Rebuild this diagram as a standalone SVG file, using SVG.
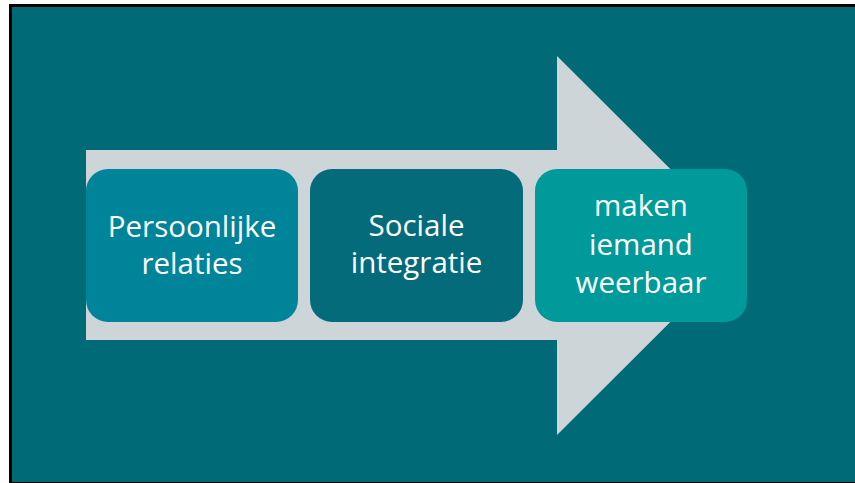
<svg xmlns="http://www.w3.org/2000/svg" width="855" height="483" viewBox="0 0 855 483">
  <style>
    .box-label { font-family: "Open Sans", "Liberation Sans", sans-serif; font-size: 29.5px; fill: #ffffff; text-anchor: middle; }
  </style>
  <!-- page and slide frame -->
  <rect x="0" y="0" width="855" height="483" fill="#ffffff"/>
  <rect x="9" y="4" width="846" height="479" fill="#000000"/>
  <rect x="12" y="7" width="843" height="475" fill="#006B77"/>

  <!-- big process arrow -->
  <g id="connectors">
    <polygon points="86,150 557,150 557,56 747,245.5 557,435 557,340 86,340" fill="#CDD5D8"/>
  </g>

  <g id="node-persoonlijke">
    <rect x="86" y="169" width="212" height="153" rx="22" fill="#00849A"/>
    <text class="box-label" x="192" y="237">Persoonlijke</text>
    <text class="box-label" x="192" y="274">relaties</text>
  </g>

  <g id="node-sociale">
    <rect x="310" y="169" width="213" height="153" rx="22" fill="#046B7A"/>
    <text class="box-label" x="416.5" y="236">Sociale</text>
    <text class="box-label" x="416.5" y="273">integratie</text>
  </g>

  <g id="node-weerbaar">
    <rect x="535" y="169" width="212" height="153" rx="22" fill="#009A9A"/>
    <text class="box-label" x="641" y="216">maken</text>
    <text class="box-label" x="641" y="255">iemand</text>
    <text class="box-label" x="641" y="293">weerbaar</text>
  </g>
</svg>
